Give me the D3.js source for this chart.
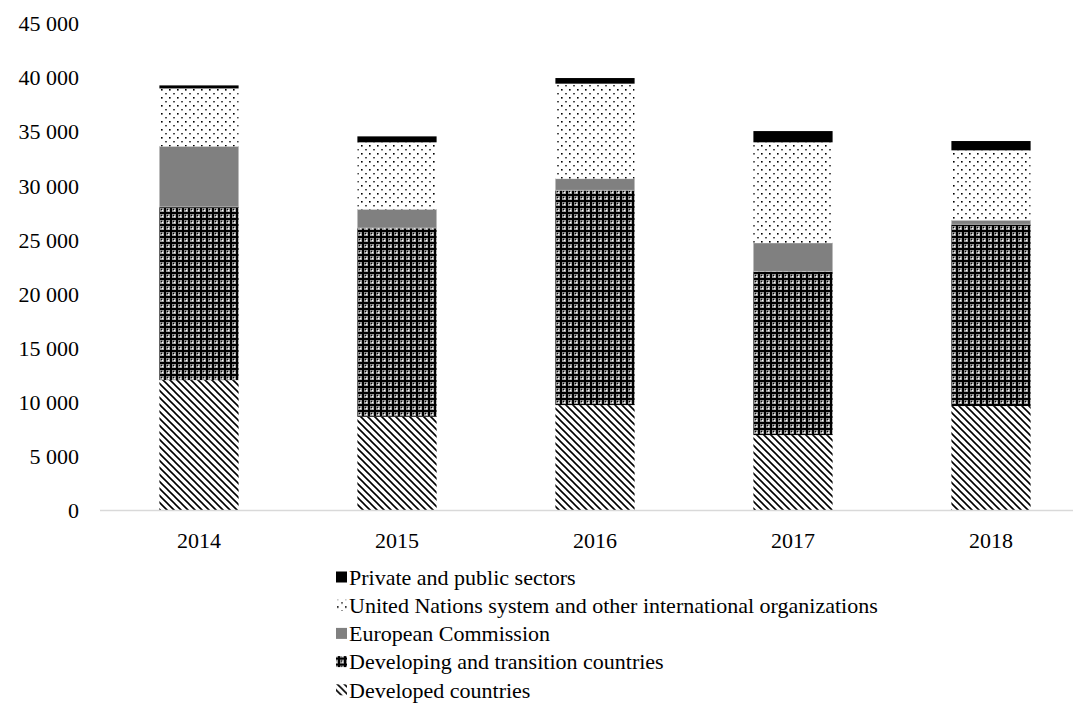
<!DOCTYPE html>
<html><head><meta charset="utf-8">
<script src="https://cdn.jsdelivr.net/npm/d3@7"></script>
<style>body{margin:0;background:#fff}svg{display:block}</style>
</head><body>
<svg id="c" width="1073" height="705"></svg>
<script>
const years = ["2014","2015","2016","2017","2018"];
const developed = [12050, 8660, 9740, 6970, 9650];
const developing = [16000, 17440, 19850, 15130, 16800];
const europeanCommission = [5600, 1730, 1070, 2620, 370];
const unSystem = [5350, 6190, 8780, 9300, 6460];
const privatePublic = [280, 550, 520, 1040, 860];
const yTicks = [0,5000,10000,15000,20000,25000,30000,35000,40000,45000];
const seriesNames = ["Developed countries","Developing and transition countries","European Commission","United Nations system and other international organizations","Private and public sectors"];
const seriesData = [developed, developing, europeanCommission, unSystem, privatePublic];
const fills = ["url(#pDev)","url(#pDvg)","#808080","url(#pUN)","#000"];

const FONT = '"Liberation Serif"';
const fs = 22;
const svg = d3.select("#c");
const defs = svg.append("defs");
const p1 = defs.append("pattern").attr("id","pDev").attr("patternUnits","userSpaceOnUse").attr("width",7).attr("height",7);
p1.append("rect").attr("width",7).attr("height",7).attr("fill","#fff");
p1.append("path").attr("d","M0,0L7,7M-2,5L2,9M5,-2L9,2").attr("stroke","#000").attr("stroke-width",1.6);
const p2 = defs.append("pattern").attr("id","pDvg").attr("patternUnits","userSpaceOnUse").attr("width",6).attr("height",6);
p2.append("rect").attr("width",6).attr("height",6).attr("fill","#9a9a9a");
p2.append("rect").attr("x",2).attr("y",0).attr("width",2).attr("height",6).attr("fill","#000");
p2.append("rect").attr("x",0).attr("y",2).attr("width",6).attr("height",2).attr("fill","#000");
p2.append("rect").attr("x",0).attr("y",0).attr("width",1.2).attr("height",1.2).attr("fill","#fff");
p2.append("rect").attr("x",4.8).attr("y",4.8).attr("width",1.2).attr("height",1.2).attr("fill","#000");
const p3 = defs.append("pattern").attr("id","pUN").attr("patternUnits","userSpaceOnUse").attr("width",8).attr("height",8);
p3.append("rect").attr("width",8).attr("height",8).attr("fill","#fff");
p3.append("rect").attr("x",1).attr("y",1).attr("width",1.6).attr("height",1.6).attr("fill","#000");
p3.append("rect").attr("x",5).attr("y",5.3).attr("width",2).attr("height",1).attr("fill","#000");

const y = d3.scaleLinear().domain([0,45000]).range([510.5, 23.5]);
const x = d3.scaleBand().domain(years).range([100,1090]).paddingInner(0.6).paddingOuter(0.3);

svg.append("g").selectAll("text").data(yTicks).join("text")
  .attr("x",79).attr("y",d=>y(d)).attr("dy","0.35em").attr("text-anchor","end")
  .style("font-family",FONT).style("font-size",fs+"px").attr("fill","#000")
  .text(d=>d===0?"0":d3.format(",")(d).replace(/,/g," "));

const rows = years.map((yr,i)=>{const o={year:yr}; seriesNames.forEach((s,j)=>o[s]=seriesData[j][i]); return o;});
const stack = d3.stack().keys(seriesNames)(rows);
svg.append("g").selectAll("g").data(stack).join("g")
  .attr("fill",(d,i)=>fills[i])
  .attr("stroke",(d,i)=>i===2?"#bfbfbf":"none").attr("stroke-width",0.8)
  .selectAll("rect").data(d=>d).join("rect")
  .attr("x",d=>x(d.data.year)).attr("width",x.bandwidth())
  .attr("y",d=>y(d[1])).attr("height",d=>y(d[0])-y(d[1]));

svg.append("line").attr("x1",100).attr("x2",1090).attr("y1",y(0)).attr("y2",y(0))
  .attr("stroke","#d9d9d9").attr("stroke-width",1.5);
svg.append("g").selectAll("text").data(years).join("text")
  .attr("x",d=>x(d)+x.bandwidth()/2).attr("y",540).attr("dy","0.35em").attr("text-anchor","middle")
  .style("font-family",FONT).style("font-size",fs+"px").attr("fill","#000").text(d=>d);

const legendOrder = [4,3,2,1,0];
const lg = svg.append("g").selectAll("g").data(legendOrder).join("g")
  .attr("transform",(d,i)=>`translate(336,${577+i*28.2})`);
lg.append("rect").attr("x",0).attr("y",-5.5).attr("width",11).attr("height",11).attr("fill",d=>fills[d]);
lg.append("text").attr("x",13).attr("y",0).attr("dy","0.35em")
  .style("font-family",FONT).style("font-size",fs+"px").attr("fill","#000").text(d=>seriesNames[d]);
</script>
</body></html>
